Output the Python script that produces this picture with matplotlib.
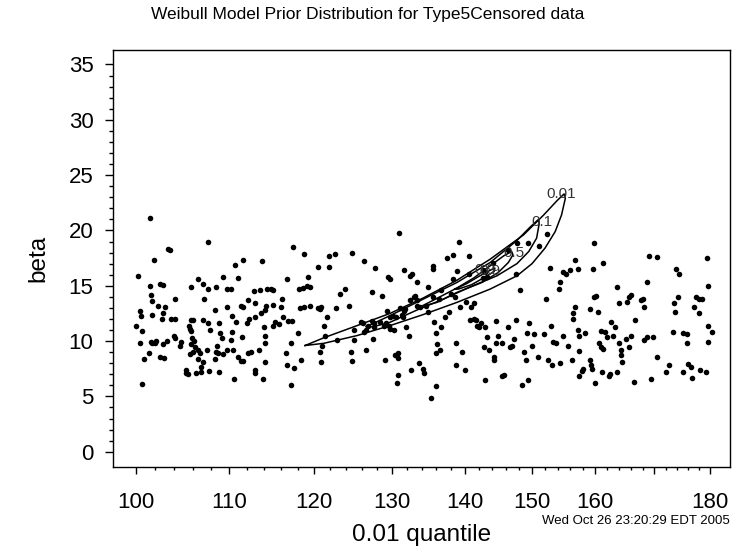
import matplotlib
matplotlib.use('Agg')
import matplotlib.pyplot as plt
from matplotlib.ticker import FixedLocator, FixedFormatter, NullFormatter

plt.rcParams['font.family'] = ['Liberation Sans', 'DejaVu Sans']

quantile = [
    101.4, 100.2, 101.9, 101.4, 102.5, 102.8, 101.5, 101.7, 102.3, 103.0, 100.4, 100.5, 101.6, 102.8,
    102.7, 103.7, 104.1, 100.0, 100.6, 100.4, 101.5, 101.7, 102.1, 102.8, 102.0, 103.2, 101.3, 100.8,
    102.5, 102.9, 100.6, 104.1, 104.0, 104.1,
    103.3, 103.5, 107.6, 106.6, 107.1, 107.6, 105.8, 107.2, 108.5, 108.4, 105.8, 106.0, 105.6, 105.7,
    105.8, 107.1, 107.6, 104.7, 104.6, 105.9, 106.1, 105.8, 106.2, 107.9, 106.0, 105.7, 106.6, 107.1,
    106.9, 105.3, 105.2, 105.5, 106.3, 106.9, 107.8, 108.9, 108.9, 109.0, 107.5, 108.5, 108.8, 109.3,
    108.6, 108.4,
    109.3, 109.8, 110.2, 109.8, 110.3, 110.7, 111.6, 111.0, 112.1, 111.4, 111.6, 112.9, 112.3, 112.0,
    112.9, 110.3, 110.2, 111.5, 109.2, 109.8, 110.4, 111.0, 111.3, 111.6, 112.1, 112.5, 112.9, 112.9,
    110.5, 113.9, 112.8, 113.8, 114.3, 114.8, 113.7, 114.1, 114.2, 114.0, 114.1, 114.1, 113.4, 114.1,
    115.0, 115.1, 115.3, 115.1,
    116.1, 116.0, 116.2, 116.6, 116.7, 116.8, 117.3, 117.4, 117.6, 116.7, 117.2, 117.2, 118.2, 118.6,
    119.1, 119.5, 119.3, 118.3, 118.8, 119.5, 120.5, 120.9, 120.7, 118.8, 120.5, 121.2, 121.8, 121.8,
    122.6, 121.6, 121.0, 120.9, 120.7,
    123.2, 123.8, 122.7, 124.4, 124.7, 126.3, 124.6, 124.7, 125.0, 125.0, 125.9, 126.6, 126.6, 127.3,
    127.4, 127.7, 128.6, 129.1, 129.4, 129.7, 129.3, 129.7, 127.3, 127.6, 128.4, 129.2, 129.6, 130.2,
    130.3, 130.7, 130.7, 130.7, 130.6, 130.9, 130.5, 131.3, 131.5,
    131.6, 131.9, 132.4, 132.7, 132.3, 132.5, 132.9, 133.4, 133.3, 131.6, 133.3, 133.6, 134.2, 134.3,
    134.5, 134.8, 134.9, 135.5, 135.6, 135.3, 136.0, 136.0, 136.1, 136.5, 135.9, 136.7, 136.4, 135.7,
    137.5, 138.4, 137.2, 137.8, 138.1, 138.7, 139.2, 138.8, 139.3, 138.6, 139.6, 140.0, 140.6, 140.6,
    140.9, 141.3, 140.7, 141.3, 141.8, 141.6, 142.0, 142.3, 142.9, 143.0, 143.2, 143.5, 142.8, 144.2,
    144.3, 144.5, 144.8, 144.5, 145.5, 145.8, 145.5, 146.4, 146.6, 147.0, 147.3, 147.6, 147.7, 147.5,
    148.2, 148.5, 149.4, 148.8, 149.1, 149.6, 150.0, 149.2, 150.3, 150.9, 151.8, 152.5, 152.2, 152.3,
    152.8,
    153.0, 153.2, 153.1, 153.7, 154.3, 154.2, 154.3, 154.9, 155.3, 155.9, 154.9, 155.6, 156.5, 156.4,
    156.2, 156.8, 157.3, 156.8, 157.3, 157.4, 157.4, 157.8, 157.4, 158.1, 158.4, 159.1, 159.4, 159.5,
    159.1, 159.6, 159.9, 159.9, 160.2, 160.0, 160.4, 160.7, 160.9, 161.0, 161.3, 161.3, 161.2, 161.6,
    162.0, 162.3, 162.4, 162.7, 163.0, 163.3, 163.6, 163.6, 163.9, 163.9, 164.3, 164.5, 164.3, 165.1,
    165.3, 165.6, 166.0, 165.6, 166.0, 166.5, 166.7, 167.7, 168.0, 168.3, 168.3, 168.7, 168.7, 169.0,
    170.4, 169.4, 169.7, 170.4, 172.5, 172.0, 173.2, 173.5, 173.7, 173.9, 174.4, 174.2, 175.0, 175.7,
    175.7, 175.0, 176.0, 176.5, 176.7, 177.1, 177.4, 178.0, 178.0, 178.5, 178.1, 179.3, 179.5, 179.6,
    179.6, 179.6, 180.3,
    121.3, 122.9, 126.1, 126.8, 126.3, 127.6, 128.9, 129.7, 130.1, 131.0, 131.7, 132.4, 133.1, 133.7,
    135.6, 136.6, 138.4, 138.9, 140.2, 142.6, 142.9, 143.2, 142.6, 144.1, 146.4, 149.4, 151.1,
    106.5, 106.8, 110.8, 113.5, 115.8, 118.1, 118.4,
]
beta = [
    21.1, 15.9, 17.3, 15.0, 15.2, 15.1, 14.2, 13.6, 13.2, 13.1, 12.7, 12.3, 12.4, 12.5,
    12.0, 12.0, 12.0, 11.4, 10.9, 9.8, 9.9, 9.8, 10.0, 9.7, 9.8, 10.0, 8.9, 8.4,
    8.6, 8.5, 6.1, 13.8, 10.5, 10.3,
    18.3, 18.2, 19.0, 15.6, 15.2, 14.7, 14.9, 13.8, 14.9, 12.8, 11.9, 11.9, 11.4, 11.1,
    10.9, 11.9, 11.6, 9.9, 9.6, 10.3, 10.0, 9.7, 9.5, 11.0, 9.0, 8.8, 8.4, 8.1,
    7.7, 7.4, 7.1, 7.0, 7.1, 7.2, 7.3, 7.2, 11.6, 10.7, 9.2, 9.0, 8.9, 8.8,
    9.6, 8.4,
    15.8, 14.7, 14.7, 13.1, 12.3, 16.9, 17.3, 15.7, 13.7, 13.2, 13.1, 13.4, 12.0, 11.6,
    12.2, 10.8, 10.1, 10.4, 10.3, 9.2, 9.2, 8.6, 8.2, 8.2, 8.9, 9.0, 7.4, 7.1,
    6.6, 6.6, 14.5, 17.2, 14.7, 14.7, 12.5, 12.8, 13.2, 11.3, 10.5, 9.8, 9.2, 8.1,
    14.6, 13.3, 11.7, 11.4,
    13.8, 13.1, 12.2, 8.9, 15.6, 11.8, 11.8, 18.5, 7.6, 7.8, 6.0, 9.8, 14.7, 14.8,
    15.0, 14.9, 15.8, 13.0, 13.1, 13.2, 13.0, 13.1, 12.9, 17.9, 16.7, 11.4, 16.7, 17.7,
    17.9, 12.2, 9.6, 8.1, 9.0,
    14.3, 14.7, 13.0, 13.2, 18.0, 17.2, 9.0, 8.2, 11.0, 10.1, 11.7, 9.2, 11.0, 14.4,
    10.2, 16.6, 14.1, 8.3, 15.8, 15.6, 12.7, 12.2, 11.8, 11.3, 11.7, 11.6, 11.4, 11.0,
    8.7, 8.9, 8.5, 6.9, 6.2, 19.8, 12.2, 12.4, 12.2,
    16.4, 11.3, 15.9, 16.1, 10.5, 7.4, 14.0, 13.7, 13.2, 12.7, 15.3, 8.0, 7.5, 7.1,
    13.2, 12.6, 14.9, 16.5, 16.8, 4.9, 5.9, 10.7, 9.7, 9.2, 8.9, 11.3, 13.8, 11.7,
    17.5, 17.8, 12.2, 12.6, 14.3, 7.8, 19.0, 9.8, 13.1, 14.0, 9.0, 7.4, 17.7, 16.1,
    13.1, 13.4, 11.9, 12.0, 11.4, 11.9, 11.3, 11.6, 6.5, 11.3, 10.4, 9.2, 9.5, 8.6,
    8.3, 11.8, 10.5, 9.8, 6.8, 6.9, 9.8, 11.3, 9.5, 9.6, 10.2, 16.1, 18.9, 11.9,
    14.6, 6.0, 6.5, 9.0, 8.3, 11.6, 9.6, 10.7, 10.6, 8.6, 10.6, 8.3, 13.8, 19.7,
    16.6,
    11.4, 9.9, 7.8, 9.8, 8.0, 14.7, 15.3, 16.2, 16.1, 16.4, 10.5, 9.6, 12.5, 12.0,
    8.3, 17.3, 16.5, 13.1, 11.0, 10.5, 9.1, 7.3, 6.8, 7.5, 10.7, 8.3, 7.8, 7.5,
    12.9, 16.5, 18.9, 14.0, 14.1, 6.2, 12.6, 9.8, 9.5, 10.9, 17.1, 9.3, 7.2, 10.8,
    10.4, 6.8, 7.0, 11.7, 10.5, 11.3, 14.9, 7.2, 13.4, 9.8, 9.2, 8.1, 8.7, 10.2,
    13.5, 14.0, 14.2, 9.5, 10.5, 6.3, 11.9, 13.7, 13.8, 13.1, 10.1, 10.4, 15.3, 17.7,
    17.6, 6.6, 10.4, 8.6, 7.8, 7.2, 10.8, 13.4, 12.6, 16.5, 16.1, 14.0, 10.7, 10.6,
    9.8, 7.2, 7.9, 7.7, 6.7, 13.1, 14.0, 13.8, 12.5, 13.8, 7.4, 7.2, 17.5, 15.0,
    11.4, 9.9, 10.8,
    10.5, 10.1, 11.6, 11.4, 10.8, 11.6, 11.4, 11.1, 12.3, 13.0, 12.9, 13.7, 14.1, 13.1,
    14.0, 14.6, 15.6, 16.3, 13.5, 16.4, 16.2, 15.8, 15.7, 17.1, 18.2, 18.9, 18.6,
    9.2, 8.9, 11.7, 14.6, 11.5, 10.7, 8.3,
]

# prior density contours (relative level), outlines
c001_q = [118.9, 121.2, 125.4, 129.7, 134.2, 138.9, 143.7, 148.7, 151.8, 153.9, 155.0,
          155.2, 154.6, 153.6, 152.0, 150.0, 147.7, 143.7, 138.9, 134.2, 129.7, 125.4, 121.2, 118.9]
c001_b = [9.6, 10.3, 11.4, 12.5, 13.9, 15.5, 17.4, 19.6, 21.4, 22.7, 23.3,
          22.9, 21.4, 19.9, 18.4, 17.0, 15.9, 14.7, 13.5, 12.4, 11.4, 10.5, 9.8, 9.6]
c01_q = [126.6, 129.7, 134.2, 138.9, 143.7, 147.7, 149.7, 151.0,
         151.1, 150.7, 149.5, 147.7, 144.7, 140.8, 137.0, 133.3, 129.7, 127.5, 126.6]
c01_b = [11.3, 12.3, 13.8, 15.3, 17.1, 19.1, 20.3, 21.0,
         20.6, 19.3, 18.1, 17.0, 15.9, 14.9, 13.8, 12.8, 11.7, 11.3, 11.3]
c05_q = [133.8, 136.5, 138.9, 141.3, 143.7, 145.7, 146.9,
         147.1, 146.4, 144.9, 142.5, 138.9, 136.1, 133.8]
c05_b = [13.1, 14.0, 14.8, 15.7, 16.8, 17.7, 18.1,
         17.8, 17.1, 16.2, 15.3, 14.4, 13.5, 13.1]
c09_q = [138.6, 140.3, 142.2, 143.7, 144.4, 144.3, 143.0, 141.0, 139.1, 138.6]
c09_b = [14.7, 15.2, 15.9, 16.4, 16.6, 16.3, 15.8, 15.1, 14.7, 14.7]
label_q = [154.6, 151.5, 147.2, 143.0, 143.7]
label_b = [23.3, 20.8, 18.0, 16.4, 16.3]
label_txt = ['0.01', '0.1', '0.5', '0.9', '0.9']

xticks = [100, 110, 120, 130, 140, 150, 160, 170, 180]
xlabels = ['100', '110', '120', '130', '140', '150', '160', '', '180']
yticks = [0, 5, 10, 15, 20, 25, 30, 35]

fig = plt.figure(figsize=(7.35, 5.5), dpi=100)
ax = fig.add_axes([0.1537, 0.1509, 0.8395, 0.7582])

ax.scatter(quantile, beta, s=16, c='black', linewidths=0, zorder=2)
for q, b in [(c001_q, c001_b), (c01_q, c01_b), (c05_q, c05_b), (c09_q, c09_b)]:
    ax.plot(q, b, color='black', lw=1.1, zorder=3)
for q, b, t in zip(label_q, label_b, label_txt):
    ax.text(q, b, t, fontsize=11, color='#333333', ha='center', va='center', zorder=4)

ax.set_xscale('log')
ax.set_xlim(97.67, 183.7)
ax.set_ylim(-1.38, 36.31)

ax.xaxis.set_major_locator(FixedLocator(xticks))
ax.xaxis.set_major_formatter(FixedFormatter(xlabels))
ax.xaxis.set_minor_locator(FixedLocator(list(range(100, 181, 2))))
ax.xaxis.set_minor_formatter(NullFormatter())
ax.yaxis.set_major_locator(FixedLocator(yticks))
ax.yaxis.set_minor_locator(FixedLocator(list(range(0, 36))))
ax.yaxis.set_minor_formatter(NullFormatter())

ax.tick_params(axis='both', which='major', labelsize=16, direction='out', width=1)
ax.tick_params(axis='x', which='major', length=5, pad=13)
ax.tick_params(axis='y', which='major', length=6, pad=8)
ax.tick_params(axis='x', which='minor', length=2.5, width=1)
ax.tick_params(axis='y', which='minor', length=3, width=1)
for s in ax.spines.values():
    s.set_linewidth(1)

ax.set_xlabel('0.01 quantile', fontsize=17.5, labelpad=8)
ax.set_ylabel('beta', fontsize=17.5, labelpad=14)
fig.text(0.5, 0.973, 'Weibull Model Prior Distribution for Type5Censored data',
         fontsize=12.5, ha='center', va='center')
fig.text(0.993, 0.052, 'Wed Oct 26 23:20:29 EDT 2005', fontsize=9.5, ha='right', va='center')

fig.savefig('out.png', dpi=100)
